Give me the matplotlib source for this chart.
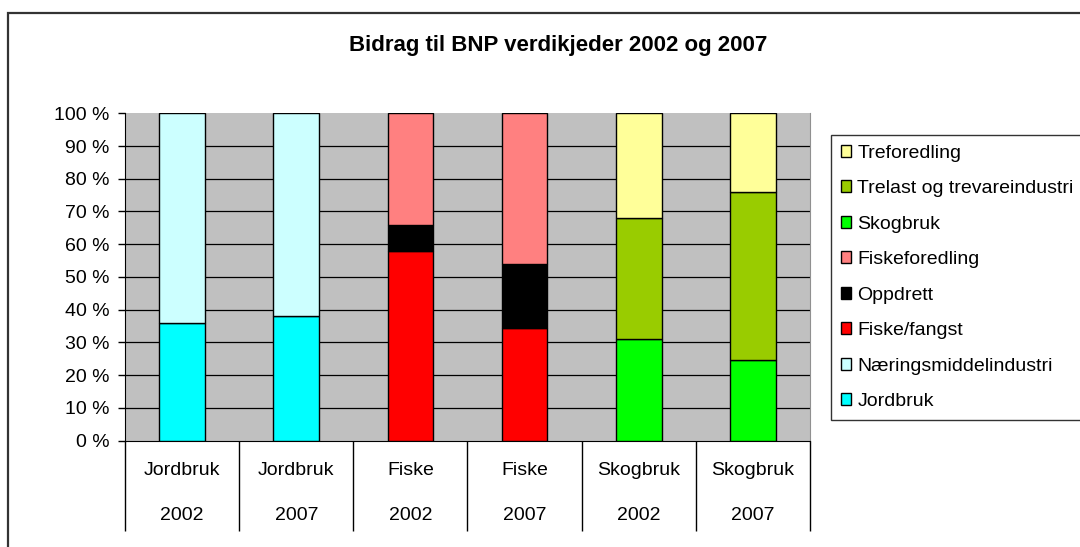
import numpy as np
import matplotlib
matplotlib.use("Agg")
import matplotlib.pyplot as plt
from matplotlib.patches import Rectangle

plt.rcParams['font.family'] = ['Liberation Sans', 'DejaVu Sans']

categories = ["Jordbruk", "Jordbruk", "Fiske", "Fiske", "Skogbruk", "Skogbruk"]
years = ["2002", "2007", "2002", "2007", "2002", "2007"]

# andel av BNP-bidrag i prosent, per verdikjede
series = [
    ("Jordbruk",                   [36, 38, 0, 0, 0, 0],        "#00FFFF"),
    ("Næringsmiddelindustri",      [64, 62, 0, 0, 0, 0],        "#CCFFFF"),
    ("Fiske/fangst",               [0, 0, 58, 34.5, 0, 0],      "#FF0000"),
    ("Oppdrett",                   [0, 0, 8, 19.5, 0, 0],       "#000000"),
    ("Fiskeforedling",             [0, 0, 34, 46, 0, 0],        "#FF8080"),
    ("Skogbruk",                   [0, 0, 0, 0, 31, 24.5],      "#00FF00"),
    ("Trelast og trevareindustri", [0, 0, 0, 0, 37, 51.5],      "#99CC00"),
    ("Treforedling",               [0, 0, 0, 0, 32, 24],        "#FFFF99"),
]

fig = plt.figure(figsize=(10.8, 5.47), dpi=100)
ax = fig.add_axes([125/1080, 1-440.5/547, 685/1080, 327.2/547])
ax.set_facecolor("#C0C0C0")

x = np.arange(len(categories))
bottom = np.zeros(len(categories))
handles = []
for name, vals, col in series:
    vals = np.array(vals, dtype=float)
    m = vals > 0
    b = ax.bar(x[m], vals[m], 0.4, bottom=bottom[m], color=col,
               edgecolor="black", linewidth=1, label=name, zorder=3)
    handles.append(b)
    bottom += vals

ax.set_xlim(-0.5, len(categories) - 0.5)
ax.set_ylim(0, 100)
ax.set_yticks(np.arange(0, 101, 10))
ax.set_yticklabels([f"{v} %" for v in range(0, 101, 10)], fontsize=14)
ax.tick_params(axis="y", length=5, width=1, color="black", pad=6)
for v in range(10, 100, 10):
    ax.axhline(v, color="black", lw=0.9, zorder=1)

# category axis: separators and two rows of labels
ax.set_xticks(np.arange(-0.5, len(categories)))
ax.set_xticklabels([])
ax.tick_params(axis="x", length=64.5, width=1, color="black")
for i, (c, yr) in enumerate(zip(categories, years)):
    ax.text(i, -30/327, c, transform=ax.get_xaxis_transform(),
            ha="center", va="center", fontsize=14)
    ax.text(i, -75/327, yr, transform=ax.get_xaxis_transform(),
            ha="center", va="center", fontsize=14)

ax.spines["top"].set_visible(False)
ax.spines["right"].set_color("#909090")
ax.spines["left"].set_color("black")
ax.spines["bottom"].set_color("black")

fig.text(558/1080, 1-45/547, "Bidrag til BNP verdikjeder 2002 og 2007",
         ha="center", va="center", fontsize=16, fontweight="bold")

leg = fig.legend(handles[::-1], [s[0] for s in series][::-1],
                 loc="upper left", bbox_to_anchor=(831/1080, 1-135/547),
                 fontsize=14, frameon=True, fancybox=False, edgecolor="black",
                 handlelength=0.55, handleheight=0.55, handletextpad=0.3,
                 labelspacing=0.95, borderpad=0.5, borderaxespad=0)
leg.get_frame().set_linewidth(1)

fig.patches.append(Rectangle((8/1080, -0.1), 1.2, 1.1 - 13/547,
                             transform=fig.transFigure, fill=False,
                             edgecolor="#333333", lw=1.6))

fig.savefig("out.png", dpi=100)
